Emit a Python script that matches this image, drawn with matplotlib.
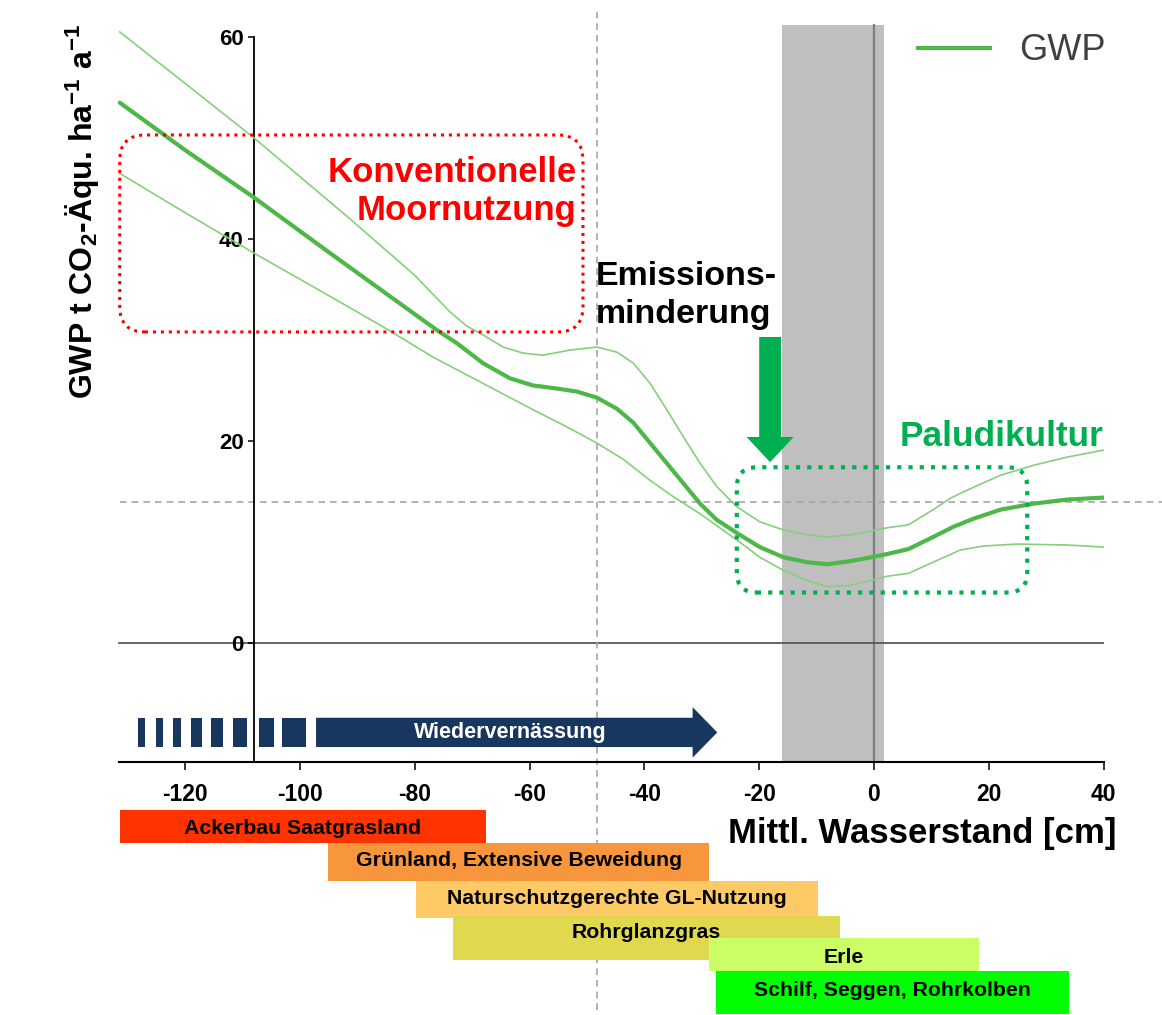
import matplotlib
matplotlib.use("Agg")
import matplotlib.pyplot as plt
from matplotlib.patches import FancyBboxPatch, Rectangle
from matplotlib.lines import Line2D

plt.rcParams['mathtext.default'] = 'regular'

FONT = ['Liberation Sans', 'DejaVu Sans']

# --- data ------------------------------------------------------------------
# mean GWP curve (water level cm, t CO2-eq / ha / a)
wl_mean = [-131.4, -120, -108, -95, -85, -76.2, -72.7, -68.1, -63.4, -59.4, -55.3,
           -51.8, -48.3, -44.8, -41.9, -39.0, -36.1, -33.2, -30.3, -27.4, -23.9,
           -19.9, -15.8, -11.7, -8.2, -4.2, -1.3, 2.2, 6.0, 10.3, 13.8, 17.3,
           22.0, 27.8, 33.6, 40.0]
gwp_mean = [53.5, 48.8, 44.1, 38.7, 34.6, 31.0, 29.7, 27.7, 26.2, 25.5, 25.2,
            24.9, 24.3, 23.2, 21.8, 19.8, 17.8, 15.8, 13.8, 12.2, 10.9,
            9.5, 8.5, 8.0, 7.8, 8.1, 8.4, 8.8, 9.3, 10.5, 11.5, 12.3,
            13.2, 13.8, 14.2, 14.4]

wl_upper = [-131.4, -120, -108, -91.3, -80, -73.9, -71.0, -68.1, -64.6, -61.1,
            -57.6, -53.0, -48.3, -44.8, -41.9, -39.0, -36.1, -33.2, -30.3, -27.4,
            -23.9, -19.9, -15.8, -11.7, -8.2, -4.2, -1.3, 2.2, 6.0, 10.3, 13.2,
            16.1, 22.0, 27.8, 33.6, 40.0]
gwp_upper = [60.5, 55.4, 50.0, 42.0, 36.4, 32.8, 31.4, 30.5, 29.3, 28.7,
             28.5, 29.0, 29.3, 28.8, 27.7, 25.7, 23.1, 20.4, 17.8, 15.5,
             13.5, 12.0, 11.2, 10.7, 10.5, 10.7, 11.0, 11.4, 11.7, 13.2, 14.3,
             15.1, 16.6, 17.6, 18.4, 19.1]

wl_lower = [-131.4, -120, -108, -95, -85.5, -76.8, -68.1, -59.4, -53.5, -48.3,
            -43.7, -39.0, -35.0, -30.3, -23.9, -19.9, -15.8, -11.7, -8.2, -4.2,
            -1.3, 2.2, 6.0, 10.3, 15.0, 19.0, 24.9, 33.6, 40.0]
gwp_lower = [46.5, 42.6, 38.6, 34.4, 31.3, 28.3, 25.7, 23.1, 21.4, 19.8,
             18.2, 16.1, 14.5, 12.8, 10.2, 8.5, 7.2, 6.2, 5.6, 5.7,
             6.1, 6.6, 6.9, 8.0, 9.2, 9.6, 9.8, 9.7, 9.5]

x_ticks = [-120, -100, -80, -60, -40, -20, 0, 20, 40]
y_ticks = [0, 20, 40, 60]

# land use ranges along the water level axis
use_labels = ['Ackerbau Saatgrasland', 'Grünland, Extensive Beweidung',
              'Naturschutzgerechte GL-Nutzung', 'Rohrglanzgras', 'Erle',
              'Schilf, Seggen, Rohrkolben']
use_start = [-131.4, -95.1, -79.8, -73.3, -28.7, -27.5]
use_end = [-67.6, -28.7, -9.8, -5.9, 18.3, 34.0]

# rewetting arrow (dashed part, then arrow)
rewet_dashes = [(-128.2, -127.0), (-125.0, -123.9), (-122.1, -120.8), (-118.9, -117.0),
                (-115.5, -113.4), (-111.6, -109.2), (-107.2, -104.6), (-103.2, -99.0)]
rewet_start, rewet_end = -97.2, -27.3

grey_band = (-16.0, 1.7)

# --- styles ----------------------------------------------------------------
use_colors = ['#FF3300', '#F7963C', '#FFC966', '#E0D950', '#CCFF66', '#00FF00']
use_rows = [(810, 843, 828), (843, 881, 860), (881, 918, 898),
            (916, 960, 932), (938, 971, 957), (971, 1014, 990)]
green = '#4DB848'
light_green = '#86CF7C'
navy = '#17375E'

W, H = 1162, 1015
fig = plt.figure(figsize=(W / 100, H / 100), dpi=100)


def fx(px):
    return px / W


def fy(py):
    return 1 - py / H


ax = fig.add_axes([fx(116.3), fy(762.2), 987.3 / W, 745.4 / H])
ax.set_xlim(-132, 40)
ax.set_ylim(-11.8, 62)
ax.patch.set_visible(False)

for s in ['top', 'right']:
    ax.spines[s].set_visible(False)
ax.spines['left'].set_position(('data', -108))
ax.spines['left'].set_bounds(-11.8, 60)
ax.spines['bottom'].set_bounds(-131.5, 40)
ax.spines['left'].set_linewidth(1.3)
ax.spines['bottom'].set_linewidth(1.5)

ax.set_xticks(x_ticks)
ax.set_yticks(y_ticks)
ax.set_xticklabels([str(v) for v in x_ticks], family=FONT, weight='bold', fontsize=16.5)
ax.set_yticklabels([str(v) for v in y_ticks], family=FONT, weight='bold', fontsize=16)
ax.tick_params(axis='x', direction='out', length=6, width=1.1, pad=9)
ax.tick_params(axis='y', direction='out', length=4.5, width=1.1, pad=3)

# grey band + zero line of water level
ax.axvspan(grey_band[0], grey_band[1], ymin=0, ymax=(61.2 + 11.8) / 73.8,
           color='#BFBFBF', lw=0, zorder=0)
ax.plot([0, 0], [-11.8, 61.2], color='#7F7F7F', lw=1.6, zorder=1)
ax.plot([-131.5, 40], [0, 0], color='#595959', lw=1.3, zorder=1)

# dashed reference lines
ax.axvline(-48.3, ymin=-0.333, ymax=1.012, clip_on=False, color='#A6A6A6',
           lw=1.2, dashes=(4, 3), zorder=1)
ax.axhline(14, xmin=0.004, xmax=1.059, clip_on=False, color='#A6A6A6',
           lw=1.2, dashes=(4, 3), zorder=1)

# GWP curves
ax.plot(wl_upper, gwp_upper, color=light_green, lw=1.2, zorder=3,
        solid_joinstyle='round')
ax.plot(wl_lower, gwp_lower, color=light_green, lw=1.2, zorder=3,
        solid_joinstyle='round')
ax.plot(wl_mean, gwp_mean, color=green, lw=3, zorder=4,
        solid_capstyle='round', solid_joinstyle='round')

asp = 5.74 / 10.1
red_box = FancyBboxPatch((-131.4, 30.8), 80.7, 19.5,
                         boxstyle='round,pad=0,rounding_size=4.4',
                         mutation_aspect=asp, fill=False, edgecolor='#FF0000',
                         lw=2.2, linestyle=(0, (1, 1.6)), zorder=5)
ax.add_patch(red_box)
ax.text(-51.8, 44.7, 'Konventionelle\nMoornutzung', color='#FF0000',
        family=FONT, weight='bold', fontsize=25, ha='right', va='center',
        linespacing=1.22, zorder=6)

grn_box = FancyBboxPatch((-23.9, 5.0), 50.6, 12.4,
                         boxstyle='round,pad=0,rounding_size=3.5',
                         mutation_aspect=asp, fill=False, edgecolor='#00B050',
                         lw=3, linestyle=(0, (1, 1.7)), zorder=5)
ax.add_patch(grn_box)
ax.text(4.5, 20.4, 'Paludikultur', color='#00B050', family=FONT, weight='bold',
        fontsize=25.4, ha='left', va='center', zorder=6)

ax.text(-48.4, 34.4, 'Emissions-\nminderung', color='black', family=FONT,
        weight='bold', fontsize=24.5, ha='left', va='center', linespacing=1.3,
        zorder=6)
ax.arrow(-18.1, 30.3, 0, -12.4, width=3.8, head_width=8.2, head_length=2.5,
         length_includes_head=True, color='#00B050', lw=0, zorder=6)

# rewetting arrow
for a, b in rewet_dashes:
    ax.add_patch(Rectangle((a, -10.3), b - a, 2.9, color=navy, lw=0, zorder=5))
ax.arrow(rewet_start, -8.85, rewet_end - rewet_start, 0, width=2.9, head_width=5.0,
         head_length=4.3, length_includes_head=True, color=navy, lw=0, zorder=5)
ax.text(-63.4, -8.85, 'Wiedervernässung', color='white', family=FONT,
        weight='bold', fontsize=15.5, ha='center', va='center', zorder=6)

# legend
leg = ax.legend([Line2D([], [], color=green, lw=3)], ['GWP'], loc='center left',
                bbox_to_anchor=(fx(918), fy(51)), bbox_transform=fig.transFigure,
                frameon=False, handlelength=2.0, handletextpad=0.8,
                borderpad=0, borderaxespad=0,
                prop={'family': FONT, 'size': 26})
for t in leg.get_texts():
    t.set_color('#404040')

# y label
fig.text(fx(83), fy(212), 'GWP t CO$_2$-Äqu. ha$^{-1}$ a$^{-1}$', rotation=90,
         family=FONT, weight='bold', fontsize=23, ha='center', va='center')

# x label
fig.text(fx(728), fy(833), 'Mittl. Wasserstand [cm]', family=FONT,
         weight='bold', fontsize=25, ha='left', va='center')

# land use bars
ax2 = fig.add_axes([ax.get_position().x0, 0, ax.get_position().width, fy(800)])
ax2.set_xlim(-132, 40)
ax2.set_ylim(H, 800)
ax2.axis('off')
for lab, a, b, c, (top, bot, ty) in zip(use_labels, use_start, use_end,
                                        use_colors, use_rows):
    ax2.barh((top + bot) / 2, b - a, height=bot - top, left=a, color=c, lw=0)
    ax2.text((a + b) / 2, ty, lab, family=FONT, weight='bold', fontsize=15.3,
             ha='center', va='center')

fig.savefig('out.png', dpi=100)
